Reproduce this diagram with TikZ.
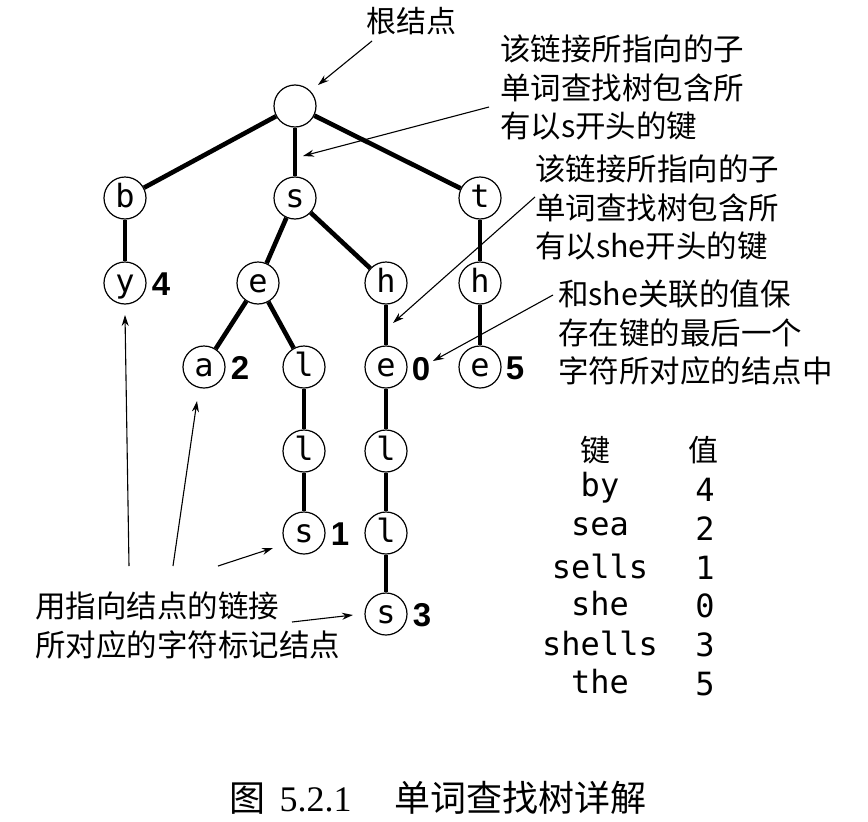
\documentclass[tikz,border=0pt]{standalone}
\usepackage{fontspec}
\newfontfamily\cjk{Noto Sans CJK SC}
\newfontfamily\monof{DejaVu Sans Mono}
\newfontfamily\valf{Liberation Sans}
\newfontfamily\capf{Liberation Serif}
\usetikzlibrary{arrows.meta}
\begin{document}
\begin{tikzpicture}[x=1pt,y=-1pt,
  tn/.style={circle,draw,line width=1.2pt,minimum size=42pt,inner sep=0pt,text height=23pt,text depth=5pt,font=\monof\fontsize{32}{32}\selectfont},
  lnk/.style={line width=4.6pt},
  val/.style={font=\valf\bfseries\fontsize{33}{33}\selectfont,inner sep=0pt},
  note/.style={font=\cjk\fontsize{30.5}{38.5}\selectfont,align=left,inner sep=0pt,anchor=north west},
  ptr/.style={line width=1.1pt,-{Stealth[length=11pt,width=7pt]}},
  cell/.style={font=\monof\fontsize{32}{32}\selectfont,inner sep=0pt},
  head/.style={font=\cjk\fontsize{30}{30}\selectfont,inner sep=0pt}]
\path[use as bounding box] (0,0) rectangle (868,822);

% trie nodes
\node[tn] (root) at (295,106) {};
\node[tn] (b) at (125,198) {b};
\node[tn] (s) at (295,198) {s};
\node[tn] (t) at (480,198) {t};
\node[tn] (y) at (125,283) {y};
\node[tn] (se) at (258,283) {e};
\node[tn] (sh) at (386,283) {h};
\node[tn] (th) at (480,283) {h};
\node[tn] (sa) at (204,367) {a};
\node[tn] (sl1) at (304,367) {l};
\node[tn] (she) at (386,367) {e};
\node[tn] (the) at (480,367) {e};
\node[tn] (sl2) at (304,451) {l};
\node[tn] (shl1) at (386,451) {l};
\node[tn] (ss) at (304,533) {s};
\node[tn] (shl2) at (386,533) {l};
\node[tn] (shs) at (386,614) {s};

% links
\draw[lnk] (root) -- (b);
\draw[lnk] (root) -- (s);
\draw[lnk] (root) -- (t);
\draw[lnk] (b) -- (y);
\draw[lnk] (s) -- (se);
\draw[lnk] (s) -- (sh);
\draw[lnk] (t) -- (th);
\draw[lnk] (se) -- (sa);
\draw[lnk] (se) -- (sl1);
\draw[lnk] (sh) -- (she);
\draw[lnk] (th) -- (the);
\draw[lnk] (sl1) -- (sl2);
\draw[lnk] (she) -- (shl1);
\draw[lnk] (sl2) -- (ss);
\draw[lnk] (shl1) -- (shl2);
\draw[lnk] (shl2) -- (shs);

% values
\node[val] (v4) at (161,284) {4};
\node[val] (v2) at (240,368) {2};
\node[val] (v0) at (421,369) {0};
\node[val] (v5) at (515,368) {5};
\node[val] (v1) at (340,534) {1};
\node[val] (v3) at (422,615) {3};

% annotations
\node[font=\cjk\fontsize{30}{30}\selectfont,inner sep=0pt] (rootlbl) at (411,21) {根结点};
\coordinate (rls) at (372,41);
\coordinate (rootptr) at (318,85);
\draw[ptr] (rls) -- (rootptr);

\node[note] (n1) at (500,35) {该链接所指向的子\\单词查找树包含所\\有以s开头的键};
\coordinate (n1s) at (489,107);
\coordinate (n1e) at (303,156);
\draw[ptr] (n1s) -- (n1e);

\node[note] (n2) at (535,155) {该链接所指向的子\\单词查找树包含所\\有以she开头的键};
\coordinate (n2s) at (535,197);
\coordinate (n2e) at (393,323);
\draw[ptr] (n2s) -- (n2e);

\node[note] (n3) at (558,280) {和she关联的值保\\存在键的最后一个\\字符所对应的结点中};
\coordinate (n3s) at (553,295);
\coordinate (n3e) at (433,361);
\draw[ptr] (n3s) -- (n3e);

\node[note] (n4) at (35,592) {用指向结点的链接\\所对应的字符标记结点};
\coordinate (a1s) at (129,566); \coordinate (a1e) at (125,315);
\coordinate (a2s) at (173,566); \coordinate (a2e) at (197,401);
\coordinate (a3s) at (218,566); \coordinate (a3e) at (273,548);
\coordinate (a4s) at (292,622); \coordinate (a4e) at (353,615);
\draw[ptr] (a1s) -- (a1e);
\draw[ptr] (a2s) -- (a2e);
\draw[ptr] (a3s) -- (a3e);
\draw[ptr] (a4s) -- (a4e);

% table
\node[head] (hk) at (595,450) {键};
\node[head] (hv) at (703,450) {值};
\node[cell] (k1) at (600,488) {by};
\node[cell] (k2) at (600,527) {sea};
\node[cell] (k3) at (600,566) {sells};
\node[cell] (k4) at (600,604) {she};
\node[cell] (k5) at (600,643) {shells};
\node[cell] (k6) at (600,682) {the};
\node[cell] (w1) at (705,490) {4};
\node[cell] (w2) at (705,529) {2};
\node[cell] (w3) at (705,568) {1};
\node[cell] (w4) at (705,606) {0};
\node[cell] (w5) at (705,645) {3};
\node[cell] (w6) at (705,684) {5};

% caption
\node[inner sep=0pt,font=\fontsize{36}{36}\selectfont] (cap) at (438,798) {{\cjk 图}\hspace{0.4em}{\capf 5.2.1}\hspace{1.2em}{\cjk 单词查找树详解}};
\end{tikzpicture}
\end{document}
